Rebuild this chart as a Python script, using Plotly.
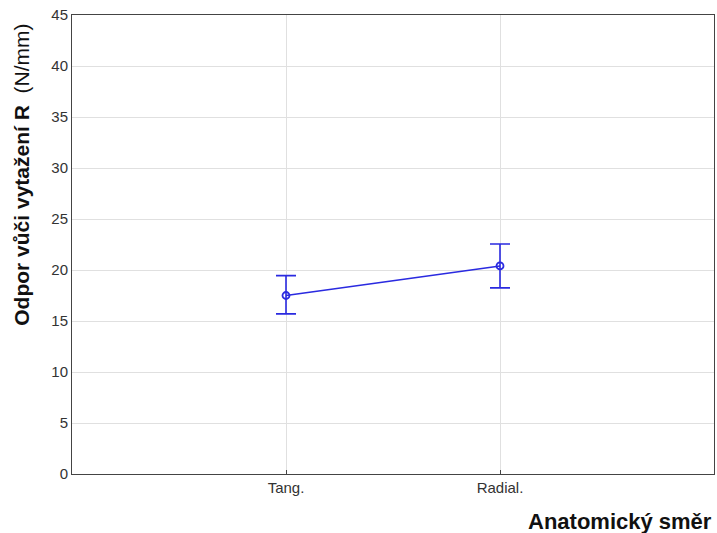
import plotly.graph_objects as go

# Pull-out resistance by anatomical direction (mean with error limits)
directions = ["Tang.", "Radial."]
means = [17.5, 20.4]
upper = [19.45, 22.55]
lower = [15.7, 18.25]

err_plus = [u - m for u, m in zip(upper, means)]
err_minus = [m - l for m, l in zip(means, lower)]

blue = "#2a2ae0"

fig = go.Figure()
fig.add_trace(go.Scatter(
    x=[0, 1],
    y=means,
    mode="lines+markers",
    line=dict(color=blue, width=1.6),
    marker=dict(symbol="circle-open", size=7, color=blue, line=dict(width=1.8, color=blue)),
    error_y=dict(type="data", symmetric=False, array=err_plus, arrayminus=err_minus,
                 color=blue, thickness=1.6, width=10),
    showlegend=False,
))

fig.update_layout(
    width=717, height=533,
    margin=dict(l=72, r=3, t=15, b=59),
    paper_bgcolor="white", plot_bgcolor="white",
    font=dict(family="Liberation Sans, Arial, sans-serif", color="#333333", size=15),
    xaxis=dict(
        range=[-1, 2],
        tickvals=[0, 1], ticktext=directions,
        showgrid=True, gridcolor="#e0e0e0", gridwidth=1,
        showline=True, linecolor="#444444", linewidth=1, mirror=True,
        ticks="inside", ticklen=4, tickcolor="#444444",
        zeroline=False,
        tickfont=dict(size=15, color="#333333"),
    ),
    yaxis=dict(
        range=[0, 45], dtick=5,
        showgrid=True, gridcolor="#e0e0e0", gridwidth=1,
        showline=True, linecolor="#444444", linewidth=1, mirror=True,
        ticks="", zeroline=False,
        tickfont=dict(size=15, color="#333333"),
    ),
    annotations=[
        dict(
            text="<b>Anatomický směr</b>", xref="paper", yref="paper",
            x=1, y=0, xanchor="right", yanchor="middle", yshift=-47,
            showarrow=False, font=dict(size=22, color="#111111"),
        ),
        dict(
            text="<b>Odpor vůči vytažení R</b>  (N/mm)", xref="paper", yref="paper",
            x=0, y=0.652, xanchor="center", yanchor="middle", xshift=-50,
            textangle=-90, showarrow=False, font=dict(size=21, color="#111111"),
        ),
    ],
)

fig.write_html("out.html")
